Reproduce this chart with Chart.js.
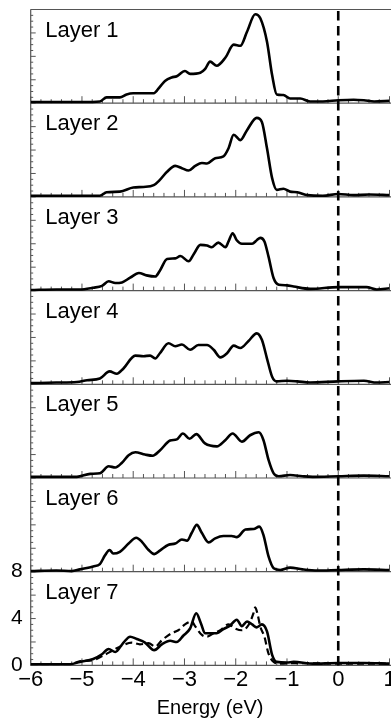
<!DOCTYPE html>
<html><head><meta charset="utf-8">
<script src="https://cdn.jsdelivr.net/npm/chart.js@4/dist/chart.umd.min.js"></script>
<style>html,body{margin:0;padding:0;background:#fff;}#wrap{width:391px;height:727px;position:relative;}canvas{display:block;}</style>
</head><body><div id="wrap"><canvas id="c" width="391" height="727"></canvas></div>
<script>
const layerLabels = ["Layer 1","Layer 2","Layer 3","Layer 4","Layer 5","Layer 6","Layer 7"];
const xTicks = [-6,-5,-4,-3,-2,-1,0,1];
const yTickLabels = [0,4,8];
const fermiEnergy = 0;

const energy1 = [-6.0,-5.5,-5.0,-4.65,-4.52,-4.26,-4.13,-4.0,-3.6,-3.48,-3.38,-3.25,-3.15,-2.99,-2.89,-2.69,-2.6,-2.5,-2.37,-2.2,-2.04,-1.91,-1.78,-1.62,-1.52,-1.39,-1.29,-1.2,-1.07,-0.94,-0.74,-0.55,-0.3,0,0.3,0.5,0.7,1.0];
const dos1 = [0.1,0.1,0.1,0.15,0.5,0.5,0.75,0.85,0.85,1.4,1.9,2.2,2.3,2.75,2.5,2.6,2.9,3.55,3.2,3.9,5.0,4.9,6.1,7.6,7.25,5.25,2.4,0.75,0.7,0.4,0.4,0.15,0.15,0.25,0.3,0.25,0.15,0.2];

const energy2 = [-6.0,-5.5,-5.0,-4.65,-4.52,-4.26,-4.0,-3.8,-3.6,-3.48,-3.34,-3.18,-3.05,-2.92,-2.79,-2.66,-2.56,-2.4,-2.24,-2.14,-2.04,-1.91,-1.78,-1.59,-1.49,-1.39,-1.29,-1.2,-1.07,-0.94,-0.8,-0.6,-0.3,0,0.3,0.6,1.0];
const dos2 = [0.1,0.1,0.1,0.1,0.4,0.45,0.8,0.85,1.0,1.45,2.15,2.65,2.45,2.25,2.65,2.9,2.85,3.3,3.45,4.15,5.3,4.85,5.7,6.75,6.4,4.15,1.6,0.6,0.7,0.45,0.4,0.15,0.1,0.25,0.15,0.2,0.15];

const energy3 = [-6.0,-5.5,-5.04,-4.78,-4.61,-4.48,-4.35,-4.22,-4.06,-3.89,-3.74,-3.57,-3.48,-3.34,-3.18,-3.08,-2.92,-2.82,-2.69,-2.56,-2.47,-2.34,-2.2,-2.14,-2.06,-1.98,-1.88,-1.68,-1.59,-1.52,-1.44,-1.36,-1.26,-1.16,-1.0,-0.87,-0.55,0,0.55,0.75,1.0];
const dos3 = [0.05,0.1,0.1,0.25,0.4,0.8,0.65,0.7,1.1,1.5,1.3,1.2,1.7,2.7,2.75,2.95,2.5,3.1,3.9,3.85,3.7,4.1,3.7,4.2,4.9,4.3,4.0,4.0,4.3,4.5,4.2,2.9,1.05,0.5,0.45,0.35,0.15,0.3,0.3,0.1,0.2];

const energy4 = [-6.0,-5.5,-5.1,-4.9,-4.65,-4.46,-4.32,-4.19,-3.96,-3.8,-3.67,-3.57,-3.48,-3.31,-3.18,-3.05,-2.89,-2.73,-2.56,-2.43,-2.3,-2.17,-2.04,-1.91,-1.75,-1.59,-1.49,-1.39,-1.29,-1.2,-1.0,-0.8,-0.55,0,0.5,0.75,1.0];
const dos4 = [0.1,0.15,0.2,0.35,0.5,1.1,0.9,1.35,2.45,2.4,2.45,2.2,2.65,3.5,3.25,3.4,2.95,3.35,3.35,2.95,2.3,2.65,3.3,3.1,3.7,4.35,3.8,2.2,0.65,0.25,0.3,0.25,0.15,0.25,0.3,0.15,0.2];

const energy5 = [-6.0,-5.5,-5.1,-4.84,-4.65,-4.48,-4.35,-4.22,-4.09,-3.96,-3.77,-3.62,-3.48,-3.28,-3.15,-3.03,-2.9,-2.77,-2.6,-2.37,-2.2,-2.06,-1.88,-1.72,-1.55,-1.46,-1.36,-1.26,-1.16,-0.94,-0.7,-0.5,0,0.5,1.0];
const dos5 = [0.1,0.1,0.1,0.35,0.4,1.0,0.9,1.3,1.95,2.2,2.0,1.9,2.35,3.2,3.3,3.8,3.35,3.75,2.95,2.7,3.25,3.8,3.1,3.65,3.9,3.25,1.55,0.4,0.15,0.25,0.15,0.1,0.15,0.2,0.15];

const energy6 = [-6.0,-5.5,-5.2,-5.04,-4.78,-4.65,-4.55,-4.46,-4.39,-4.26,-4.09,-3.94,-3.83,-3.7,-3.59,-3.48,-3.31,-3.18,-3.05,-2.95,-2.86,-2.76,-2.66,-2.53,-2.4,-2.24,-2.08,-1.98,-1.81,-1.65,-1.54,-1.46,-1.36,-1.26,-1.13,-0.94,-0.7,-0.4,0,0.5,1.0];
const dos6 = [0.05,0.1,0.05,0.2,0.45,0.65,1.4,1.85,1.55,1.7,2.4,2.9,2.55,1.85,1.5,1.8,2.3,2.4,2.75,2.65,3.3,4.0,3.3,2.5,2.85,3.05,3.05,2.95,3.6,3.65,3.85,3.15,1.3,0.3,0.15,0.35,0.2,0.1,0.15,0.2,0.15];

const energy7 = [-6.0,-5.43,-5.23,-5.04,-4.78,-4.61,-4.48,-4.35,-4.19,-4.06,-3.93,-3.77,-3.59,-3.44,-3.28,-3.15,-3.02,-2.89,-2.77,-2.68,-2.6,-2.37,-2.24,-2.11,-1.98,-1.88,-1.78,-1.68,-1.59,-1.49,-1.39,-1.29,-1.2,-1.0,-0.87,-0.5,0,0.5,1.0];
const dos7 = [0.1,0.1,0.1,0.3,0.55,0.95,1.4,1.15,1.95,2.45,2.25,1.95,1.3,1.8,2.1,2.0,2.55,3.15,4.45,3.6,2.75,2.75,3.1,3.4,3.9,3.35,3.75,3.5,3.25,3.5,2.9,0.9,0.3,0.25,0.3,0.15,0.2,0.2,0.15];

const energy7b = [-6.0,-5.25,-5.04,-4.78,-4.58,-4.39,-4.19,-4.03,-3.87,-3.7,-3.57,-3.44,-3.25,-3.12,-2.99,-2.86,-2.8,-2.66,-2.56,-2.43,-2.3,-2.14,-2.01,-1.88,-1.75,-1.65,-1.62,-1.57,-1.52,-1.44,-1.36,-1.26,-1.13,-0.8,0,1.0];
const dos7b = [0.1,0.1,0.35,0.45,0.85,1.3,1.75,1.95,1.8,1.9,1.6,2.15,2.75,3.0,3.5,3.75,3.4,2.6,2.45,2.75,3.0,3.5,3.15,3.0,3.45,4.5,4.95,4.3,3.3,2.45,1.0,0.3,0.15,0.2,0.15,0.15];

const PANEL = 8, NP = 7;
const FONT = '"Liberation Sans", Arial, Helvetica, sans-serif';
Chart.defaults.font.family = FONT;
Chart.defaults.color = '#000';

const layers = [[energy1,dos1],[energy2,dos2],[energy3,dos3],[energy4,dos4],[energy5,dos5],[energy6,dos6],[energy7,dos7]];
function pts(en, d, off){ return en.map((e,i)=>({x:e, y:d[i]+off})); }
const datasets = [];
layers.forEach((l,k)=>{
  datasets.push({data:pts(l[0],l[1],(NP-1-k)*PANEL), borderColor:'#000', borderWidth:2.6, pointRadius:0, cubicInterpolationMode:'monotone', fill:false});
});
datasets.push({data:pts(energy7b,dos7b,0), borderColor:'#000', borderWidth:2.2, borderDash:[7,4], pointRadius:0, cubicInterpolationMode:'monotone', fill:false});
datasets.push({data:[{x:fermiEnergy,y:0},{x:fermiEnergy,y:NP*PANEL+0.3}], borderColor:'#000', borderWidth:2.6, borderDash:[9.5,5.5], pointRadius:0, clip:false, fill:false});

function ln(ctx,x1,y1,x2,y2){ctx.beginPath();ctx.moveTo(x1,y1);ctx.lineTo(x2,y2);ctx.stroke();}
const panelPlugin = {
  id:'panels',
  beforeDatasetsDraw(chart){
    const {ctx, chartArea:a, scales:{x,y}} = chart;
    ctx.save();
    ctx.strokeStyle = '#555'; ctx.lineWidth = 1.2;
    for (let k=0;k<=NP;k++){ const py=y.getPixelForValue(k*PANEL); ln(ctx,a.left,py,chart.width,py); }
    ln(ctx,a.left,a.top,a.left,a.bottom);
    ctx.lineWidth = 1;
    for (let i=0;i<=NP*PANEL*2;i++){ const v=i/2; const py=y.getPixelForValue(v); const len=(i%4===0)?5:2.5; ln(ctx,a.left,py,a.left+len,py); }
    for (let k=0;k<NP;k++){
      const pb = y.getPixelForValue(k*PANEL);
      for (let i=0;i<=35;i++){ const e=-6+i*0.2; const px=x.getPixelForValue(e); const len=(i%5===0)?7:4; ln(ctx,px,pb,px,pb-len); }
    }
    ctx.fillStyle='#000'; ctx.font='22px '+FONT; ctx.textBaseline='alphabetic'; ctx.textAlign='left';
    layerLabels.forEach((t,k)=>{ ctx.fillText(t, a.left+14.5, y.getPixelForValue((NP-k)*PANEL)+27); });
    ctx.restore();
  }
};

new Chart(document.getElementById('c').getContext('2d'), {
  type:'line',
  data:{datasets},
  options:{
    responsive:false, animation:false, devicePixelRatio:1,
    layout:{padding:{left:0,right:1.5,top:9.5,bottom:0}},
    plugins:{legend:{display:false}, tooltip:{enabled:false}},
    scales:{
      x:{type:'linear', min:-6, max:1,
        afterFit:s=>{s.height=61.6; s.paddingLeft=0; s.paddingRight=0; s.paddingTop=0; s.paddingBottom=0;},
        afterBuildTicks:s=>{s.ticks = xTicks.map(v=>({value:v}));},
        grid:{display:false, drawTicks:false}, border:{display:false},
        ticks:{padding:1, autoSkip:false, maxRotation:0, font:{size:22}, color:'#000', callback:v=>String(v).replace('-','\u2212')},
        title:{display:true, text:'Energy (eV)', font:{size:20}, color:'#000', padding:{top:2,bottom:7}}},
      y:{type:'linear', min:0, max:NP*PANEL,
        afterFit:s=>{s.width=30.7; s.paddingTop=0; s.paddingBottom=0; s.paddingLeft=0; s.paddingRight=0;},
        afterBuildTicks:s=>{s.ticks = yTickLabels.map(v=>({value:v}));},
        grid:{display:false, drawTicks:false}, border:{display:false},
        ticks:{padding:8, autoSkip:false, font:{size:21}, color:'#000', callback:v=>String(v)}}
    }
  },
  plugins:[panelPlugin]
});
</script></body></html>
